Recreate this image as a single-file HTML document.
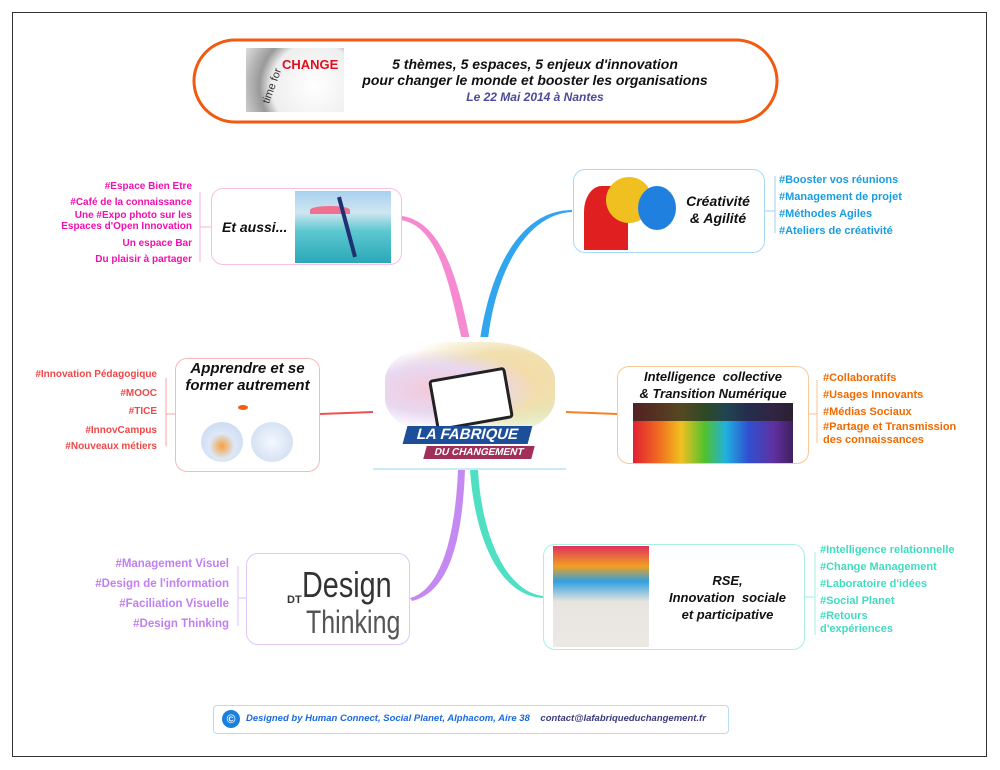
<!DOCTYPE html>
<html><head><meta charset="utf-8"><style>
body{margin:0;width:1000px;height:770px;background:#fff;position:relative;overflow:hidden;font-family:"Liberation Sans",sans-serif}
.a{position:absolute}
.box{position:absolute;border-radius:12px;background:#fff;box-sizing:border-box}
.t{position:absolute;font-weight:bold;font-style:italic;color:#111;text-align:center;line-height:17px;font-size:14px}
.lf{position:absolute;font-weight:bold;font-size:11px;white-space:nowrap;line-height:13px}
.lf span{display:block}
</style></head><body>
<div class="a" style="left:12px;top:12px;width:975px;height:745px;border:1px solid #333;box-sizing:border-box"></div>

<svg class="a" style="left:0;top:0" width="1000" height="770">
 <rect x="194" y="40" width="583" height="82" rx="41" fill="#fff" stroke="#f25a10" stroke-width="3"/>
 <path d="M400 220 C440 225 450 290 462 340 L470 340 C460 290 445 222 402 216Z" fill="#f58ad0"/>
 <path d="M572 210 C520 210 490 270 480 340 L488 340 C495 275 525 214 572 212Z" fill="#2fa6ee"/>
 <path d="M320 414 L373 412" stroke="#f05050" stroke-width="2"/>
 <path d="M566 412 L617 414" stroke="#f5822a" stroke-width="2"/>
 <path d="M458 470 C455 540 440 590 410 598 L412 601 C448 592 462 545 465 470Z" fill="#c48af2"/>
 <path d="M470 470 C475 540 500 596 543 598 L543 596 C508 592 482 540 478 470Z" fill="#4fe0c4"/>
 <g fill="none" stroke-width="1">
 <path d="M211 227 H200 M200 192 V262" stroke="#f8b0dc"/>
 <path d="M765 211 H775 M775 176 V233" stroke="#9fd2f2"/>
 <path d="M175 414 H166 M166 378 V446" stroke="#f8a0a0"/>
 <path d="M809 414 H817 M817 380 V443" stroke="#f8c090"/>
 <path d="M246 598 H238 M238 566 V626" stroke="#dcc0f8"/>
 <path d="M805 597 H815 M815 552 V635" stroke="#a0f0e0"/>
 </g>
</svg>

<div class="a" style="left:246px;top:48px;width:98px;height:64px;background:radial-gradient(circle at 70% 60%,#fff 0,#eee 55%,#999 70%,#ddd 100%)"></div>
<div class="a" style="left:282px;top:57px;font:bold 13px 'Liberation Sans';color:#e01020">CHANGE</div>
<div class="a" style="left:254px;top:80px;font:11px 'Liberation Sans';color:#333;transform:rotate(-70deg)">time for</div>
<div class="a" style="left:350px;top:56px;width:370px;text-align:center;font:bold italic 14px/16px 'Liberation Sans';color:#111">5 thèmes, 5 espaces, 5 enjeux d'innovation<br>pour changer le monde et booster les organisations<br><span style="color:#4a4a9a;font-size:12px">Le 22 Mai 2014 à Nantes</span></div>

<div class="a" style="left:373px;top:337px;width:193px;height:133px;background:#fff"></div>
<div class="a" style="left:385px;top:342px;width:170px;height:95px;border-radius:40%;background:radial-gradient(ellipse at 30% 50%,#f5c8d8 0,#e8d8f0 35%,transparent 60%),radial-gradient(ellipse at 70% 40%,#f8d8a0 0,#f0e0b0 35%,transparent 65%),radial-gradient(ellipse at 85% 60%,#c8e8b0 0,transparent 50%)"></div>
<div class="a" style="left:432px;top:373px;width:72px;height:46px;background:#fff;border:3px solid #222;border-radius:4px;transform:rotate(-10deg)"></div>
<div class="a" style="left:405px;top:426px;width:125px;height:18px;background:#1d4e9a;transform:skewX(-15deg);color:#fff;font:bold 15px/18px 'Liberation Sans';text-align:center">LA FABRIQUE</div>
<div class="a" style="left:425px;top:446px;width:108px;height:13px;background:#a0305a;transform:skewX(-15deg);color:#fff;font:bold 10px/13px 'Liberation Sans';text-align:center">DU CHANGEMENT</div>
<div class="a" style="left:373px;top:468px;width:193px;height:2px;background:#cbeaf8"></div>

<div class="box" style="left:211px;top:188px;width:191px;height:77px;border:1px solid #f8c0e0"></div>
<div class="a" style="left:295px;top:191px;width:96px;height:72px;background:linear-gradient(#a8d0ee 0,#cfe6f2 30%,#5ec8d0 55%,#2aa8b8 100%)"></div>
<div class="a" style="left:310px;top:206px;width:40px;height:8px;background:#f07090;border-radius:50% 50% 0 0"></div>
<div class="a" style="left:345px;top:196px;width:4px;height:62px;background:#203070;transform:rotate(-15deg)"></div>
<div class="t" style="left:222px;top:219px;font-size:14px">Et aussi...</div>
<div class="lf" style="right:808px;top:179px;color:#f010b0;text-align:right;font-size:10px;line-height:15.5px"><span>#Espace Bien Etre</span><span>#Café de la connaissance</span><span style="line-height:11px">Une #Expo photo sur les<br>Espaces d'Open Innovation</span><span style="margin-top:4px">Un espace Bar</span><span>Du plaisir à partager</span></div>

<div class="box" style="left:573px;top:169px;width:192px;height:84px;border:1px solid #a8d8f5"></div>
<div class="a" style="left:584px;top:186px;width:44px;height:64px;background:#e02020;border-radius:40% 40% 0 0"></div>
<div class="a" style="left:606px;top:177px;width:46px;height:46px;background:#f0c020;border-radius:50%"></div>
<div class="a" style="left:638px;top:186px;width:38px;height:44px;background:#2080e0;border-radius:50%"></div>
<div class="t" style="left:675px;top:193px;width:86px">Créativité<br>&amp; Agilité</div>
<div class="lf" style="left:779px;top:172px;color:#1a9de0;line-height:17px"><span>#Booster vos réunions</span><span>#Management de projet</span><span>#Méthodes Agiles</span><span>#Ateliers de créativité</span></div>

<div class="box" style="left:175px;top:358px;width:145px;height:114px;border:1px solid #f8b8b8"></div>
<div class="t" style="left:175px;top:360px;width:145px;font-size:15px">Apprendre et se<br>former autrement</div>
<div class="a" style="left:201px;top:422px;width:42px;height:40px;border-radius:50%;background:radial-gradient(circle at 50% 60%,#f5a040 0,#dde8f8 40%,#c0d4ee 100%)"></div>
<div class="a" style="left:251px;top:422px;width:42px;height:40px;border-radius:50%;background:radial-gradient(circle,#f4f8fe 0,#c8d8ee 100%)"></div>
<div class="a" style="left:238px;top:405px;width:10px;height:5px;background:#f06010;border-radius:50%"></div>
<div class="lf" style="right:843px;top:366px;color:#f04848;text-align:right;font-size:10px;line-height:18.5px"><span>#Innovation Pédagogique</span><span>#MOOC</span><span>#TICE</span><span>#InnovCampus</span><span style="line-height:13px">#Nouveaux métiers</span></div>

<div class="box" style="left:617px;top:366px;width:192px;height:98px;border:1px solid #f8c898"></div>
<div class="t" style="left:617px;top:368px;width:192px;font-size:13px">Intelligence&nbsp; collective<br>&amp; Transition Numérique</div>
<div class="a" style="left:633px;top:403px;width:160px;height:60px;background:linear-gradient(90deg,#e02030 0,#f07020 17%,#f0c020 30%,#50c030 45%,#20b0e0 58%,#3050d0 72%,#6030a0 88%,#402060 100%)"></div>
<div class="a" style="left:633px;top:403px;width:160px;height:18px;background:#222;opacity:.75"></div>
<div class="lf" style="left:823px;top:370px;color:#f06a00;line-height:17px"><span>#Collaboratifs</span><span>#Usages Innovants</span><span>#Médias Sociaux</span><span style="line-height:13px">#Partage et Transmission<br>des connaissances</span></div>

<div class="box" style="left:246px;top:553px;width:164px;height:92px;border:1px solid #e0c8f8"></div>
<div class="a" style="left:302px;top:568px;font:36px/34px 'Liberation Sans Narrow','Liberation Sans',sans-serif;color:#333;transform:scaleX(.8);transform-origin:left">Design</div>
<div class="a" style="left:306px;top:606px;font:32px/32px 'Liberation Sans Narrow','Liberation Sans',sans-serif;color:#555;transform:scaleX(.78);transform-origin:left">Thinking</div>
<div class="a" style="left:287px;top:594px;font:bold 11px 'Liberation Sans';color:#333">DT</div>
<div class="lf" style="right:771px;top:554px;color:#c080f0;text-align:right;font-size:11.5px;line-height:20px"><span>#Management Visuel</span><span>#Design de l'information</span><span>#Faciliation Visuelle</span><span>#Design Thinking</span></div>

<div class="box" style="left:543px;top:544px;width:262px;height:106px;border:1px solid #a8f0e0"></div>
<div class="a" style="left:553px;top:546px;width:96px;height:101px;background:linear-gradient(#e03060 0,#f0a020 20%,#30a0e0 35%,#e8e4e0 55%,#ece8e4 100%)"></div>
<div class="t" style="left:650px;top:572px;width:155px;font-size:13px">RSE,<br>Innovation&nbsp; sociale<br>et participative</div>
<div class="lf" style="left:820px;top:542px;color:#40dcc0;line-height:17px"><span>#Intelligence relationnelle</span><span>#Change Management</span><span>#Laboratoire d'idées</span><span>#Social Planet</span><span style="line-height:13px">#Retours<br>d'expériences</span></div>

<div class="box" style="left:213px;top:705px;width:516px;height:29px;border:1px solid #b8dcf4;border-radius:4px"></div>
<div class="a" style="left:222px;top:710px;width:18px;height:18px;border-radius:50%;background:#1a80e0;color:#fff;font:bold 12px/18px 'Liberation Sans';text-align:center">©</div>
<div class="a" style="left:246px;top:713px;font:bold italic 9.5px 'Liberation Sans';color:#1a6ae0;white-space:nowrap">Designed by Human Connect, Social Planet, Alphacom, Aire 38 &nbsp;&nbsp;&nbsp;<span style="color:#3a3a80">contact@lafabriqueduchangement.fr</span></div>
</body></html>
